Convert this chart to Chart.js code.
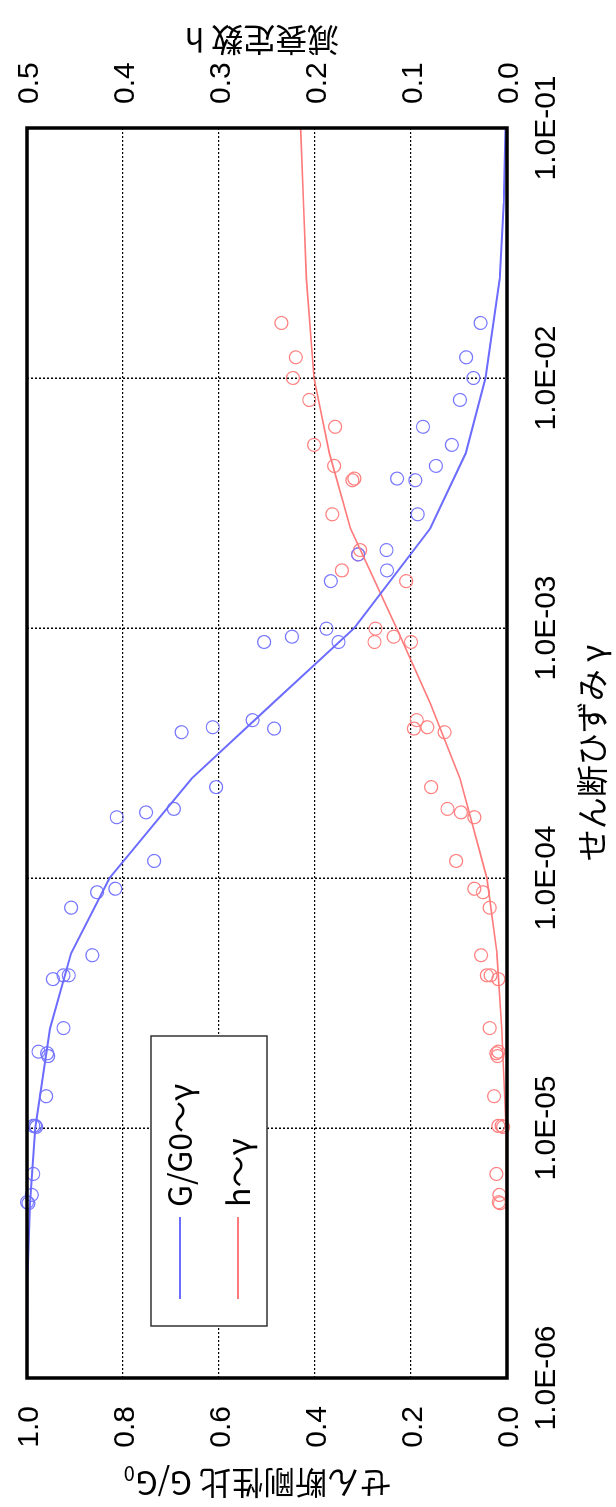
<!DOCTYPE html>
<html><head><meta charset="utf-8">
<script src="https://cdn.jsdelivr.net/npm/chart.js@4.4.1/dist/chart.umd.min.js"></script>
<style>
html,body{margin:0;padding:0;background:#fff;overflow:hidden;}
#page{position:relative;width:616px;height:1507px;overflow:hidden;background:#fff;}
#rot{position:absolute;left:0;top:0;width:1507px;height:616px;transform-origin:0 0;transform:translateY(1507px) rotate(-90deg);}
canvas{display:block;}
</style></head><body>
<div id="page"><div id="rot"><canvas id="c" width="1507" height="616"></canvas></div></div>
<script>
// ---- measured samples (shear strain, G/G0, damping h) ----
const strain = [1.66e-2,1.21e-2,1.00e-2,8.17e-3,6.38e-3,5.40e-3,4.45e-3,3.96e-3,3.90e-3,2.85e-3,
  2.05e-3,1.97e-3,1.70e-3,1.54e-3,9.94e-4,9.23e-4,8.79e-4,8.79e-4,4.28e-4,4.01e-4,
  3.96e-4,3.83e-4,2.31e-4,1.89e-4,1.83e-4,1.75e-4,1.17e-4,9.06e-5,8.77e-5,7.61e-5,
  4.91e-5,4.08e-5,4.08e-5,3.94e-5,2.51e-5,2.02e-5,1.99e-5,1.94e-5,1.34e-5,1.02e-5,
  1.02e-5,1.01e-5,6.55e-6,5.40e-6,5.05e-6,5.00e-6];
const gRatio = [0.055,0.085,0.070,0.098,0.175,0.115,0.148,0.229,0.191,0.186,
  0.251,0.310,0.250,0.367,0.376,0.448,0.351,0.506,0.530,0.613,
  0.485,0.678,0.606,0.694,0.752,0.813,0.735,0.816,0.854,0.908,
  0.864,0.924,0.913,0.946,0.924,0.976,0.958,0.956,0.960,0.987,
  0.983,0.981,0.987,0.990,1.000,0.997];
const damping = [0.235,0.220,0.223,0.206,0.179,0.201,0.180,0.159,0.161,0.182,
  0.153,0.155,0.172,0.105,0.137,0.118,0.138,0.100,0.094,0.083,
  0.097,0.065,0.079,0.062,0.048,0.034,0.053,0.034,0.025,0.018,
  0.027,0.021,0.017,0.009,0.018,0.009,0.011,0.010,0.0135,0.009,
  0.0055,0.004,0.011,0.008,0.0086,0.0073];
// ---- model curves ----
const modelStrain = [1e-6,2.5e-6,5e-6,1e-5,2.5e-5,5e-5,1e-4,2.5e-4,5e-4,1e-3,2.5e-3,5e-3,1e-2,2.5e-2,5e-2,1e-1];
const modelG = [1.0,0.999,0.994,0.983,0.952,0.908,0.828,0.657,0.488,0.318,0.160,0.086,0.045,0.015,0.007,0.003];
const modelH = [0.0,0.0,0.0005,0.001,0.0055,0.0105,0.021,0.049,0.080,0.115,0.163,0.185,0.201,0.209,0.212,0.215];
// ---- axes ----
const strainTicks = [1e-6,1e-5,1e-4,1e-3,1e-2,1e-1];
const strainTickLabels = ['1.0E-06','1.0E-05','1.0E-04','1.0E-03','1.0E-02','1.0E-01'];
const gTicks = [0,0.2,0.4,0.6,0.8,1.0];
const gTickLabels = ['0.0','0.2','0.4','0.6','0.8','1.0'];
const hTicks = [0,0.1,0.2,0.3,0.4,0.5];
const hTickLabels = ['0.0','0.1','0.2','0.3','0.4','0.5'];
const xTitle = 'せん断ひずみ γ';
const gTitle = 'せん断剛性比 G/G';
const gTitleSub = '0';
const hTitle = '減衰定数 h';
const seriesNames = ['G/G0～γ','h～γ'];

const BLUE_LINE = 'rgb(108,108,255)', RED_LINE = 'rgb(255,122,122)';
const BLUE_PT = 'rgb(118,118,255)', RED_PT = 'rgb(255,128,128)';
const NUM_FONT = '30px "Liberation Sans", Arial, sans-serif';
const JP_FONT = '32px "Noto Sans CJK JP", sans-serif';

const pts = (xs, ys) => xs.map((x, i) => ({x: x, y: ys[i]}));

const overlay = {
  id: 'overlay',
  afterDraw(chart) {
    const ctx = chart.ctx, a = chart.chartArea;
    const xs = chart.scales.x, yg = chart.scales.yG, yh = chart.scales.yH;
    ctx.save();
    // frame
    ctx.strokeStyle = '#000'; ctx.lineWidth = 3.5; ctx.setLineDash([]);
    ctx.strokeRect(a.left, a.top, a.right - a.left, a.bottom - a.top);
    ctx.fillStyle = '#000';
    // tick labels
    ctx.font = NUM_FONT; ctx.textBaseline = 'alphabetic';
    ctx.textAlign = 'center';
    strainTicks.forEach((v, i) => ctx.fillText(strainTickLabels[i], xs.getPixelForValue(v), 555));
    ctx.textAlign = 'right';
    gTicks.forEach((v, i) => ctx.fillText(gTickLabels[i], a.left - 28, yg.getPixelForValue(v) + 10.5));
    ctx.textAlign = 'left';
    hTicks.forEach((v, i) => ctx.fillText(hTickLabels[i], a.right + 24, yh.getPixelForValue(v) + 10.5));
    // titles
    ctx.font = JP_FONT;
    ctx.textAlign = 'center';
    ctx.fillText(xTitle, (a.left + a.right) / 2, 604);
    // left title (rotated)
    ctx.save();
    ctx.translate(36, 258); ctx.rotate(-Math.PI / 2);
    ctx.textAlign = 'left';
    const w1 = ctx.measureText(gTitle).width;
    ctx.font = '20px "Noto Sans CJK JP", sans-serif';
    const w2 = ctx.measureText(gTitleSub).width;
    ctx.font = JP_FONT;
    ctx.fillText(gTitle, -(w1 + w2) / 2, 0);
    ctx.font = '20px "Noto Sans CJK JP", sans-serif';
    ctx.fillText(gTitleSub, -(w1 + w2) / 2 + w1 + 1, 5);
    ctx.restore();
    // right title (rotated)
    ctx.save();
    ctx.font = JP_FONT;
    ctx.translate(1479, 262); ctx.rotate(-Math.PI / 2);
    ctx.textAlign = 'center';
    ctx.fillText(hTitle, 0, 0);
    ctx.restore();
    // legend
    ctx.fillStyle = '#fff';
    ctx.fillRect(181, 151, 290, 116);
    ctx.strokeStyle = '#333'; ctx.lineWidth = 1.5;
    ctx.strokeRect(181, 151, 290, 116);
    const ds = chart.data.datasets;
    [[180, 0], [238, 1]].forEach(([yy, k]) => {
      ctx.strokeStyle = ds[k].borderColor; ctx.lineWidth = 2;
      ctx.beginPath(); ctx.moveTo(208, yy); ctx.lineTo(290, yy); ctx.stroke();
      ctx.fillStyle = '#000'; ctx.font = JP_FONT; ctx.textAlign = 'left';
      ctx.fillText(ds[k].label, 300, yy + 12);
    });
    ctx.restore();
  }
};

const gridDash = {display: false, dash: [2, 2]};
new Chart(document.getElementById('c'), {
  type: 'scatter',
  data: {
    datasets: [
      {label: seriesNames[0], data: pts(modelStrain, modelG), yAxisID: 'yG', showLine: true,
       borderColor: BLUE_LINE, borderWidth: 2, pointRadius: 0, pointHoverRadius: 0, fill: false},
      {label: seriesNames[1], data: pts(modelStrain, modelH), yAxisID: 'yH', showLine: true,
       borderColor: RED_LINE, borderWidth: 1.6, pointRadius: 0, pointHoverRadius: 0, fill: false},
      {label: 'G/G0 data', data: pts(strain, gRatio), yAxisID: 'yG', showLine: false, clip: false,
       pointStyle: 'circle', pointRadius: 6.5, borderWidth: 1.2, borderColor: BLUE_PT, backgroundColor: 'rgba(0,0,0,0)'},
      {label: 'h data', data: pts(strain, damping), yAxisID: 'yH', showLine: false, clip: false,
       pointStyle: 'circle', pointRadius: 6.5, borderWidth: 1.2, borderColor: RED_PT, backgroundColor: 'rgba(0,0,0,0)'}
    ]
  },
  options: {
    responsive: false, animation: false, devicePixelRatio: 1,
    layout: {padding: {top: 27, left: 0, right: 0, bottom: 0}},
    plugins: {legend: {display: false}, tooltip: {enabled: false}},
    scales: {
      x: {type: 'logarithmic', position: 'bottom', min: 1e-6, max: 1e-1,
          afterBuildTicks: s => { s.ticks = strainTicks.map(v => ({value: v})); },
          afterFit: s => { s.height = 109; },
          ticks: {display: false}, border: gridDash,
          grid: {drawTicks: false, color: '#000', lineWidth: 1.5}},
      yG: {type: 'linear', position: 'left', min: 0, max: 1,
          afterBuildTicks: s => { s.ticks = gTicks.map(v => ({value: v})); },
          afterFit: s => { s.width = 129; },
          ticks: {display: false}, border: gridDash,
          grid: {drawTicks: false, color: '#000', lineWidth: 1.2}},
      yH: {type: 'linear', position: 'right', min: 0, max: 0.5,
          afterBuildTicks: s => { s.ticks = hTicks.map(v => ({value: v})); },
          afterFit: s => { s.width = 128; },
          ticks: {display: false}, border: {display: false},
          grid: {display: false}}
    }
  },
  plugins: [overlay]
});
</script>
</body></html>
